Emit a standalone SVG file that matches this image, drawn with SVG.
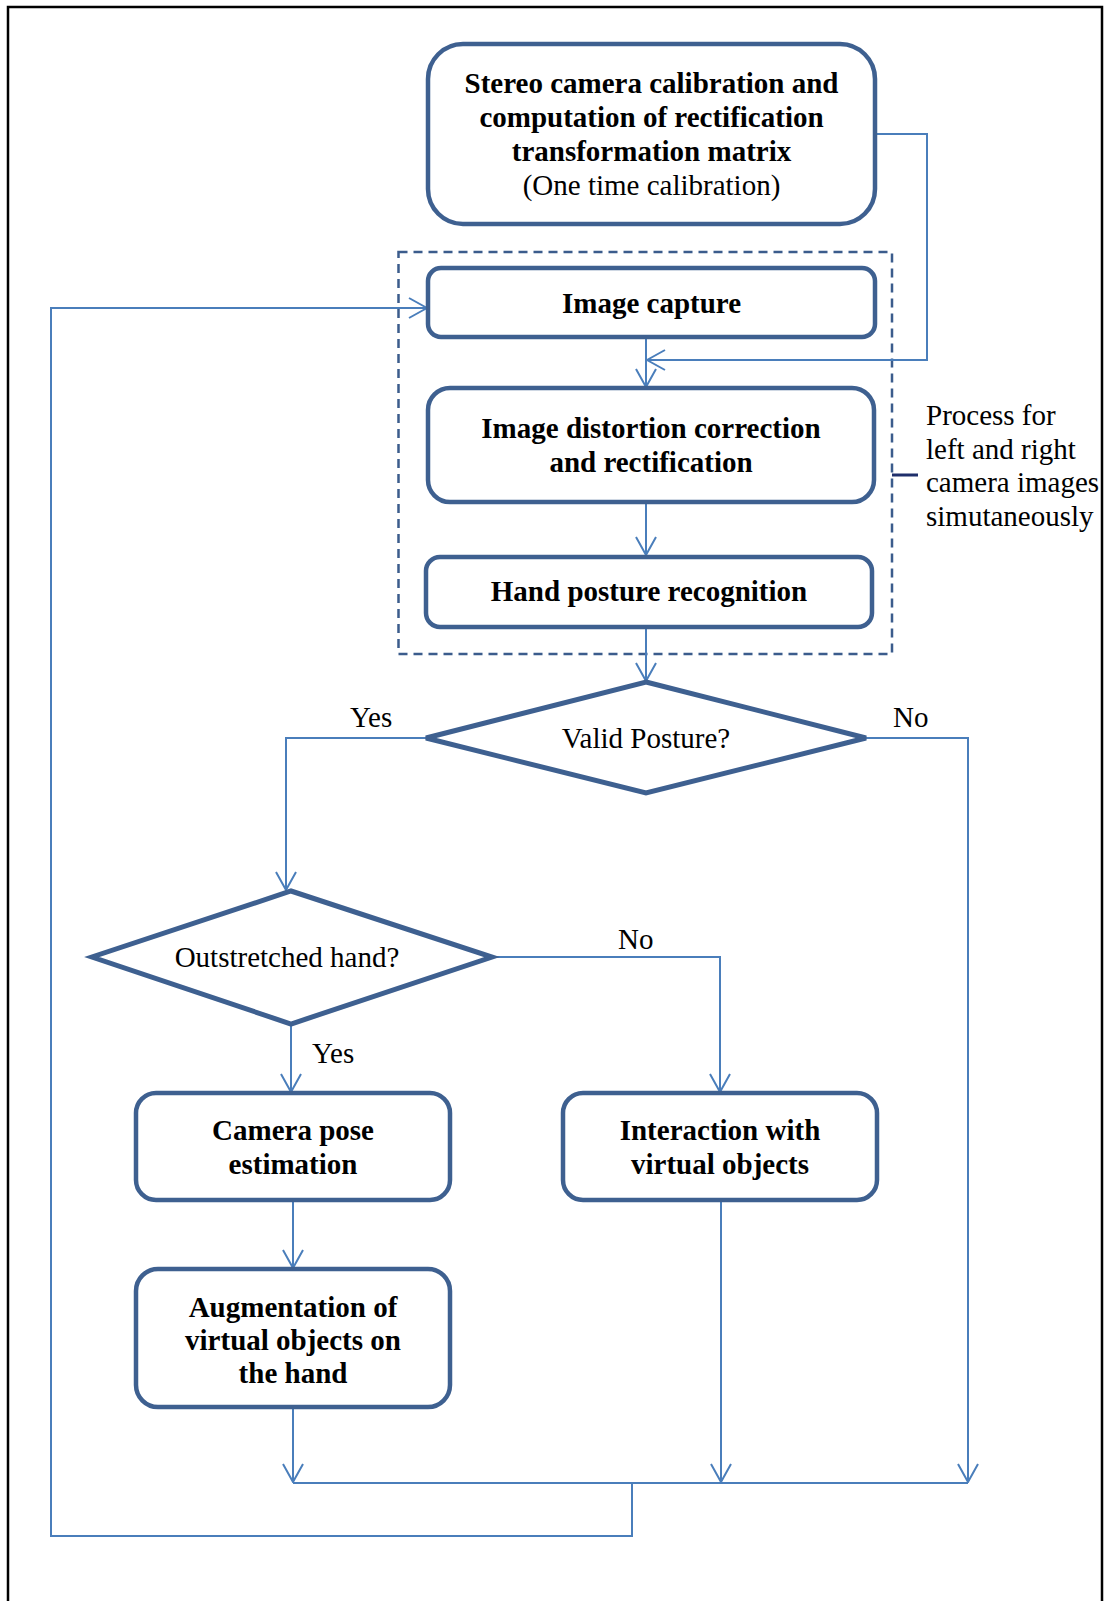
<svg xmlns="http://www.w3.org/2000/svg" width="1111" height="1601" viewBox="0 0 1111 1601">
<defs>
<style>
.box{fill:#fff;stroke:#3E6090;stroke-width:4.5}
.dia{fill:#fff;stroke:#3E6090;stroke-width:5;stroke-linejoin:miter}
.con{fill:none;stroke:#4A7EBB;stroke-width:2}
.b{font-family:"Liberation Serif","Times New Roman",serif;font-weight:bold;font-size:29px;fill:#000;text-anchor:middle}
.r{font-family:"Liberation Serif","Times New Roman",serif;font-size:29px;fill:#000}
.rc{text-anchor:middle}
</style>
<marker id="arr" markerWidth="20" markerHeight="22" refX="19" refY="11" orient="auto" markerUnits="userSpaceOnUse" viewBox="0 0 20 22">
<path d="M1,1 L19,11 L1,21" fill="none" stroke="#4A7EBB" stroke-width="2"/>
</marker>
</defs>
<rect width="1111" height="1601" fill="#fff"/>
<path d="M8,1610 V7 H1102 V1610" fill="none" stroke="#000" stroke-width="2.5"/>

<g id="process-group">
<rect x="398.5" y="252" width="493.5" height="402" fill="none" stroke="#3B5C8C" stroke-width="2.5" stroke-dasharray="9 6"/>
<line x1="892" y1="475" x2="918" y2="475" stroke="#1F2F6B" stroke-width="3"/>
<text class="r" x="926"><tspan x="926" y="425">Process for</tspan><tspan x="926" y="459">left and right</tspan><tspan x="926" y="492">camera images</tspan><tspan x="926" y="526">simutaneously</tspan></text>
</g>

<g id="connectors">
<path class="con" d="M875,134 H927 V360 H647" marker-end="url(#arr)"/>
<path class="con" d="M646,337 V387" marker-end="url(#arr)"/>
<path class="con" d="M646,502 V555" marker-end="url(#arr)"/>
<path class="con" d="M646,627 V681" marker-end="url(#arr)"/>
<path class="con" d="M426,738 H286 V890" marker-end="url(#arr)"/>
<path class="con" d="M866,738 H968 V1482" marker-end="url(#arr)"/>
<path class="con" d="M492,957 H720 V1092" marker-end="url(#arr)"/>
<path class="con" d="M291,1024 V1092" marker-end="url(#arr)"/>
<path class="con" d="M293,1200 V1268" marker-end="url(#arr)"/>
<path class="con" d="M293,1407 V1482" marker-end="url(#arr)"/>
<path class="con" d="M721,1200 V1482" marker-end="url(#arr)"/>
<path class="con" d="M293,1483 H968"/>
<path class="con" d="M632,1483 V1536 H51 V308 H427" marker-end="url(#arr)"/>
<text class="r" x="350" y="727">Yes</text>
<text class="r" x="893" y="727">No</text>
<text class="r" x="618" y="949">No</text>
<text class="r" x="312" y="1063">Yes</text>
</g>

<g id="calibration">
<rect class="box" x="428" y="44" width="447" height="180" rx="35" ry="35"/>
<text class="b" x="651.5" y="93">Stereo camera calibration and</text>
<text class="b" x="651.5" y="127">computation of rectification</text>
<text class="b" x="651.5" y="161">transformation matrix</text>
<text class="r rc" x="651.5" y="195">(One time calibration)</text>
</g>

<g id="image-capture">
<rect class="box" x="428" y="268" width="447" height="69" rx="13" ry="13"/>
<text class="b" x="651.5" y="313">Image capture</text>
</g>

<g id="distortion">
<rect class="box" x="428" y="388" width="446" height="114" rx="22" ry="22"/>
<text class="b" x="651" y="438">Image distortion correction</text>
<text class="b" x="651" y="472">and rectification</text>
</g>

<g id="hand-posture">
<rect class="box" x="426" y="557" width="446" height="70" rx="14" ry="14"/>
<text class="b" x="649" y="601">Hand posture recognition</text>
</g>

<g id="valid-posture">
<polygon class="dia" points="646,682 866,738 646,793 426,738"/>
<text class="r rc" x="646" y="748">Valid Posture?</text>
</g>

<g id="outstretched">
<polygon class="dia" points="291,891 492,957 291,1024 92,957"/>
<text class="r rc" x="287" y="967">Outstretched hand?</text>
</g>

<g id="camera-pose">
<rect class="box" x="136" y="1093" width="314" height="107" rx="20" ry="20"/>
<text class="b" x="293" y="1140">Camera pose</text>
<text class="b" x="293" y="1174">estimation</text>
</g>

<g id="augmentation">
<rect class="box" x="136" y="1269" width="314" height="138" rx="22" ry="22"/>
<text class="b" x="293" y="1317">Augmentation of</text>
<text class="b" x="293" y="1350">virtual objects on</text>
<text class="b" x="293" y="1383">the hand</text>
</g>

<g id="interaction">
<rect class="box" x="563" y="1093" width="314" height="107" rx="20" ry="20"/>
<text class="b" x="720" y="1140">Interaction with</text>
<text class="b" x="720" y="1174">virtual objects</text>
</g>
</svg>
